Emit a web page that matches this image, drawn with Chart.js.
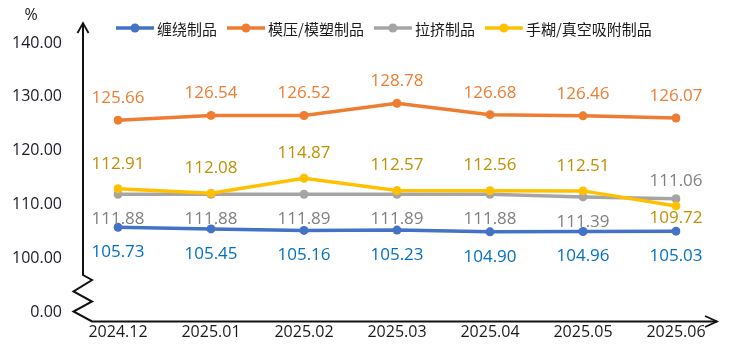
<!DOCTYPE html>
<html>
<head>
<meta charset="utf-8">
<script src="https://cdn.jsdelivr.net/npm/chart.js@4/dist/chart.umd.min.js"></script>
<style>
  html, body { margin: 0; padding: 0; background: #ffffff; }
  #wrap { width: 738px; height: 350px; }
</style>
</head>
<body>
<div id="wrap"><canvas id="c" width="738" height="350"></canvas></div>
<script>
// ---- data ----
const categories = ['2024.12', '2025.01', '2025.02', '2025.03', '2025.04', '2025.05', '2025.06'];
const seriesNames = ['缠绕制品', '模压/模塑制品', '拉挤制品', '手糊/真空吸附制品'];
const windingValues    = [105.73, 105.45, 105.16, 105.23, 104.90, 104.96, 105.03];
const moldingValues    = [125.66, 126.54, 126.52, 128.78, 126.68, 126.46, 126.07];
const pultrusionValues = [111.88, 111.88, 111.89, 111.89, 111.88, 111.39, 111.06];
const handLayValues    = [112.91, 112.08, 114.87, 112.57, 112.56, 112.51, 109.72];
const yTickValues = [0, 100, 110, 120, 130, 140];
const yUnit = '%';

// broken axis: 0 stays at 0, values from 100 up are shifted down by 90
const BREAK_SHIFT = 90;
const toAxis = v => (v >= 100 ? v - BREAK_SHIFT : v);

const FONT = '"Open Sans", "Noto Sans CJK SC", sans-serif';
const CJK = '"Noto Sans CJK SC", "Open Sans", sans-serif';

const styles = [
  { line: '#4472C4', label: '#0070C0', pos: ['below','below','below','below','below','below','below'], order: 3 },
  { line: '#ED7D31', label: '#ED7D31', pos: ['above','above','above','above','above','above','above'], order: 2 },
  { line: '#A5A5A5', label: '#808080', pos: ['below','below','below','below','below','below','above'], order: 1 },
  { line: '#FFC000', label: '#BF9000', pos: ['above','above','above','above','above','above','near'], order: 0 }
];
const rawSeries = [windingValues, moldingValues, pultrusionValues, handLayValues];

const datasets = rawSeries.map((vals, i) => ({
  label: seriesNames[i],
  data: vals.map(toAxis),
  raw: vals,
  borderColor: styles[i].line,
  backgroundColor: styles[i].line,
  pointBackgroundColor: styles[i].line,
  pointBorderColor: styles[i].line,
  borderWidth: 3.5,
  pointRadius: 4.5,
  pointBorderWidth: 0,
  tension: 0,
  order: styles[i].order
}));

const axisPlugin = {
  id: 'brokenAxes',
  afterDraw(chart) {
    const ctx = chart.ctx;
    const ca = chart.chartArea;
    const ys = chart.scales.y;
    const ax = ca.left - 35;
    const y0 = ys.getPixelForValue(0);
    const topY = ys.getPixelForValue(50) - 20;
    const breakTop = y0 - 37;
    const baseY = y0 + 9.5;
    const rightX = ca.right + 41;
    ctx.save();
    ctx.strokeStyle = '#111111';
    ctx.lineWidth = 2;
    ctx.lineJoin = 'miter';
    ctx.beginPath();
    ctx.moveTo(ax, topY);
    ctx.lineTo(ax, breakTop);
    ctx.lineTo(ax + 9, breakTop + 5);
    ctx.lineTo(ax - 9.5, breakTop + 16.5);
    ctx.lineTo(ax + 9, breakTop + 26.5);
    ctx.lineTo(ax - 9.5, breakTop + 36.5);
    ctx.lineTo(ax + 9, baseY);
    ctx.lineTo(rightX, baseY);
    ctx.stroke();
    // arrow heads
    ctx.lineWidth = 1.8;
    ctx.beginPath();
    ctx.moveTo(ax - 5.5, topY + 10);
    ctx.lineTo(ax, topY);
    ctx.lineTo(ax + 5.5, topY + 10);
    ctx.stroke();
    ctx.beginPath();
    ctx.moveTo(rightX - 12, baseY - 5.5);
    ctx.lineTo(rightX, baseY);
    ctx.lineTo(rightX - 12, baseY + 5.5);
    ctx.stroke();
    // unit
    ctx.fillStyle = '#1a1a1a';
    ctx.font = '16px ' + FONT;
    ctx.textAlign = 'center';
    ctx.textBaseline = 'middle';
    ctx.fillText(yUnit, 31, 15);
    ctx.restore();
  }
};

const labelPlugin = {
  id: 'valueLabels',
  afterDatasetsDraw(chart) {
    const ctx = chart.ctx;
    ctx.save();
    ctx.font = '17px ' + FONT;
    ctx.textAlign = 'center';
    ctx.textBaseline = 'middle';
    chart.data.datasets.forEach((ds, i) => {
      const meta = chart.getDatasetMeta(i);
      meta.data.forEach((pt, j) => {
        const p = styles[i].pos[j];
        let dy = p === 'above' ? (i === 1 ? -22 : -25) : (p === 'near' ? 12 : 25);
        if (i === 2 && p === 'above') dy = -18;
        ctx.fillStyle = styles[i].label;
        ctx.fillText(ds.raw[j].toFixed(2), pt.x, pt.y + dy);
      });
    });
    ctx.restore();
  }
};

const legendPlugin = {
  id: 'lineLegend',
  afterDraw(chart) {
    const ctx = chart.ctx;
    ctx.save();
    ctx.font = '15px ' + CJK;
    ctx.textBaseline = 'middle';
    ctx.textAlign = 'left';
    let x = 116;
    const y = 28;
    chart.data.datasets.forEach((ds) => {
      ctx.strokeStyle = ds.borderColor;
      ctx.lineWidth = 3.5;
      ctx.beginPath();
      ctx.moveTo(x, y);
      ctx.lineTo(x + 38, y);
      ctx.stroke();
      ctx.fillStyle = ds.borderColor;
      ctx.beginPath();
      ctx.arc(x + 19, y, 4.5, 0, Math.PI * 2);
      ctx.fill();
      ctx.fillStyle = '#1a1a1a';
      ctx.fillText(ds.label, x + 41, y + 1);
      x += 41 + ctx.measureText(ds.label).width + 10;
    });
    ctx.restore();
  }
};

new Chart(document.getElementById('c'), {
  type: 'line',
  data: { labels: categories, datasets },
  options: {
    responsive: false,
    animation: false,
    devicePixelRatio: 1,
    layout: { autoPadding: false, padding: { top: 43, bottom: 9, left: 12, right: 62 } },
    plugins: { legend: { display: false }, tooltip: { enabled: false } },
    scales: {
      x: {
        type: 'category',
        offset: false,
        grid: { display: false, drawTicks: false },
        border: { display: false },
        afterFit(scale) { scale.height = 29; scale.paddingLeft = 0; scale.paddingRight = 0; },
        ticks: { color: '#1a1a1a', font: { family: FONT, size: 16 }, padding: 11, maxRotation: 0, autoSkip: false }
      },
      y: {
        type: 'linear',
        min: 0,
        max: 50,
        afterBuildTicks(scale) {
          scale.ticks = yTickValues.map(v => ({ value: toAxis(v) }));
        },
        afterFit(scale) { scale.width = 106; scale.paddingTop = 0; scale.paddingBottom = 0; },
        grid: { display: false, drawTicks: false },
        border: { display: false },
        ticks: {
          color: '#1a1a2a',
          font: { family: FONT, size: 16 },
          padding: 56,
          callback: (value) => {
            const v = value === 0 ? 0 : value + BREAK_SHIFT;
            return v.toFixed(2);
          }
        }
      }
    }
  },
  plugins: [axisPlugin, labelPlugin, legendPlugin]
});
</script>
</body>
</html>
